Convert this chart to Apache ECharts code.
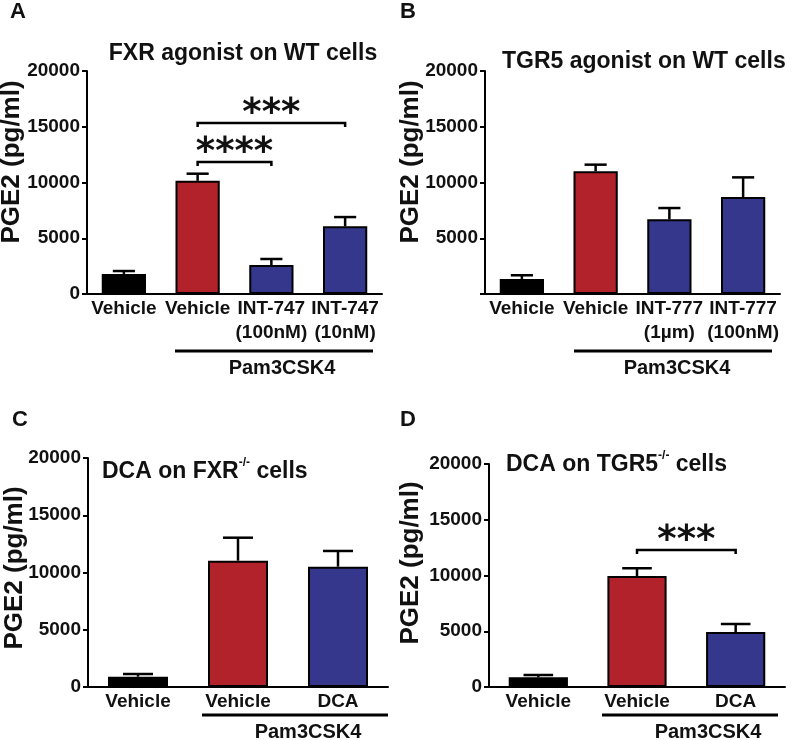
<!DOCTYPE html>
<html>
<head>
<meta charset="utf-8">
<title>PGE2</title>
<script src="https://cdn.jsdelivr.net/npm/echarts@6/dist/echarts.min.js"></script>
<style>
  html, body { margin: 0; padding: 0; background: #fff; }
  #chart { width: 800px; height: 740px; }
</style>
</head>
<body>
<div id="chart"></div>
<script>
// A: FXR agonist on WT cells
const catsA = ['Vehicle', 'Vehicle', 'INT-747\n(100nM)', 'INT-747\n(10nM)'];
const meanA = [1800, 10150, 2600, 6070];
const errA = [2060, 10790, 3140, 6900];
// B: TGR5 agonist on WT cells
const catsB = ['Vehicle', 'Vehicle', 'INT-777\n(1µm)', 'INT-777\n(100nM)'];
const meanB = [1350, 11000, 6700, 8700];
const errB = [1680, 11600, 7710, 10460];
// C: DCA on FXR-/- cells
const catsC = ['Vehicle', 'Vehicle', 'DCA'];
const meanC = [900, 11030, 10510];
const errC = [1135, 13040, 11880];
// D: DCA on TGR5-/- cells
const catsD = ['Vehicle', 'Vehicle', 'DCA'];
const meanD = [870, 9955, 4930];
const errD = [1076, 10650, 5650];

const yTicks = [0, 5000, 10000, 15000, 20000];
// significance: [from cat, to cat, bracket height, stars]
const sigA = [[1, 2, 11840, '****'], [1, 3, 15340, '***']];
const sigD = [[1, 2, 12290, '***']];

const FONT = '"Liberation Sans", Arial, Helvetica, sans-serif';
const BLACK = '#000000', RED = '#b2222a', BLUE = '#35378c';
const colors4 = [BLACK, RED, BLUE, BLUE];
const colors3 = [BLACK, RED, BLUE];

const chart = echarts.init(document.getElementById('chart'));

const grids = [
  { left: 87, top: 71, width: 295, height: 223 },
  { left: 485, top: 71, width: 295, height: 223 },
  { left: 88, top: 458, width: 300, height: 229 },
  { left: 489, top: 464, width: 296, height: 223 }
].map(g => Object.assign({ outerBoundsMode: 'none' }, g));

function makeX(i, cats) {
  return {
    type: 'category', gridIndex: i, data: cats,
    axisLine: { lineStyle: { color: '#000', width: 2 } },
    axisTick: { show: false },
    axisLabel: {
      interval: 0, color: '#111', fontFamily: FONT, fontWeight: 'bold',
      fontSize: 19, lineHeight: 24, margin: 3
    }
  };
}

function makeY(i, showZero) {
  return {
    type: 'value', gridIndex: i,
    min: yTicks[0], max: yTicks[yTicks.length - 1], interval: yTicks[1] - yTicks[0],
    splitLine: { show: false },
    axisLine: { show: true, lineStyle: { color: '#000', width: 2 } },
    axisTick: { show: true, length: 5, lineStyle: { color: '#000', width: 2 } },
    axisLabel: {
      color: '#111', fontFamily: FONT, fontWeight: 'bold', fontSize: 19, margin: 7,
      formatter: v => (v === 0 && !showZero) ? '' : String(v)
    }
  };
}

function bars(i, mean, cols) {
  return {
    type: 'bar', xAxisIndex: i, yAxisIndex: i, barWidth: '60%', z: 3,
    itemStyle: { borderColor: '#000', borderWidth: 2 },
    data: mean.map((v, k) => ({ value: v, itemStyle: { color: cols[k] } }))
  };
}

function errorBars(i, mean, err) {
  return {
    type: 'custom', xAxisIndex: i, yAxisIndex: i, z: 2,
    encode: { x: 0, y: [1, 2] },
    data: mean.map((m, k) => [k, m, err[k]]),
    renderItem(params, api) {
      const x = api.value(0);
      const p0 = api.coord([x, api.value(1)]);
      const p1 = api.coord([x, api.value(2)]);
      const half = api.size([1, 0])[0] * 0.6 / 4;
      const st = { stroke: '#000', lineWidth: 2.5 };
      return {
        type: 'group', children: [
          { type: 'line', shape: { x1: p0[0], y1: p0[1], x2: p1[0], y2: p1[1] }, style: st },
          { type: 'line', shape: { x1: p1[0] - half, y1: p1[1], x2: p1[0] + half, y2: p1[1] }, style: st }
        ]
      };
    }
  };
}

function brackets(i, sig) {
  return {
    type: 'custom', xAxisIndex: i, yAxisIndex: i, z: 4, clip: false,
    encode: { x: [0, 1], y: 2 },
    data: sig.map(s => [s[0], s[1], s[2]]),
    renderItem(params, api) {
      const a = api.coord([api.value(0), api.value(2)]);
      const b = api.coord([api.value(1), api.value(2)]);
      const leg = 4;
      return {
        type: 'group', children: [
          {
            type: 'polyline',
            shape: { points: [[a[0], a[1] + leg], [a[0], a[1]], [b[0], b[1]], [b[0], b[1] + leg]] },
            style: { stroke: '#000', lineWidth: 2.5, fill: null }
          },
          {
            type: 'text', x: (a[0] + b[0]) / 2, y: a[1] + 10,
            style: {
              text: sig[params.dataIndex][3], align: 'center', verticalAlign: 'bottom',
              font: 'bold 37px "DejaVu Sans", sans-serif', fill: '#111'
            }
          }
        ]
      };
    }
  };
}

function label(x, y, text, size, align) {
  return {
    type: 'text', x: x, y: y,
    style: {
      text: text, align: align || 'center', verticalAlign: 'middle',
      font: 'bold ' + size + 'px ' + FONT, fill: '#111'
    }
  };
}

function yName(x, y) {
  return {
    type: 'text', x: x, y: y, rotation: Math.PI / 2,
    style: {
      text: 'PGE2 (pg/ml)', align: 'center', verticalAlign: 'middle',
      font: 'bold 26px ' + FONT, fill: '#111'
    }
  };
}

function supTitle(x, y, a) {
  return {
    type: 'text', x: x, y: y,
    style: {
      text: '{t|' + a + '}{s|-/-}{t| cells}', align: 'left', verticalAlign: 'middle',
      rich: {
        t: { fontFamily: FONT, fontWeight: 'bold', fontSize: 23, lineHeight: 26, fill: '#111', verticalAlign: 'bottom' },
        s: { fontFamily: FONT, fontWeight: 'bold', fontSize: 12, lineHeight: 12, fill: '#111', verticalAlign: 'top' }
      }
    }
  };
}

function pamLine(x1, x2, y) {
  return {
    type: 'line', shape: { x1: x1, y1: y, x2: x2, y2: y },
    style: { stroke: '#000', lineWidth: 3 }
  };
}

const graphic = [
  label(18, 12, 'A', 22), label(408, 12, 'B', 22),
  label(20, 420, 'C', 22), label(408, 420, 'D', 22),
  label(243, 54, 'FXR agonist on WT cells', 23),
  label(502, 62, 'TGR5 agonist on WT cells', 23, 'left'),
  supTitle(102, 470, 'DCA on FXR'),
  supTitle(506, 463, 'DCA on TGR5'),
  yName(12, 162), yName(411, 162), yName(15, 568), yName(411, 563),
  pamLine(175, 373, 351), label(282, 368, 'Pam3CSK4', 20),
  pamLine(574, 772, 351), label(677, 368, 'Pam3CSK4', 20),
  pamLine(202, 388, 715), label(308, 732, 'Pam3CSK4', 20),
  pamLine(602, 778, 715), label(708, 732, 'Pam3CSK4', 20)
];

const option = {
  animation: false,
  backgroundColor: '#fff',
  grid: grids,
  xAxis: [makeX(0, catsA), makeX(1, catsB), makeX(2, catsC), makeX(3, catsD)],
  yAxis: [makeY(0, true), makeY(1, false), makeY(2, true), makeY(3, true)],
  series: [
    bars(0, meanA, colors4), errorBars(0, meanA, errA), brackets(0, sigA),
    bars(1, meanB, colors4), errorBars(1, meanB, errB),
    bars(2, meanC, colors3), errorBars(2, meanC, errC),
    bars(3, meanD, colors3), errorBars(3, meanD, errD), brackets(3, sigD)
  ],
  graphic: graphic
};

chart.setOption(option);
</script>
</body>
</html>
